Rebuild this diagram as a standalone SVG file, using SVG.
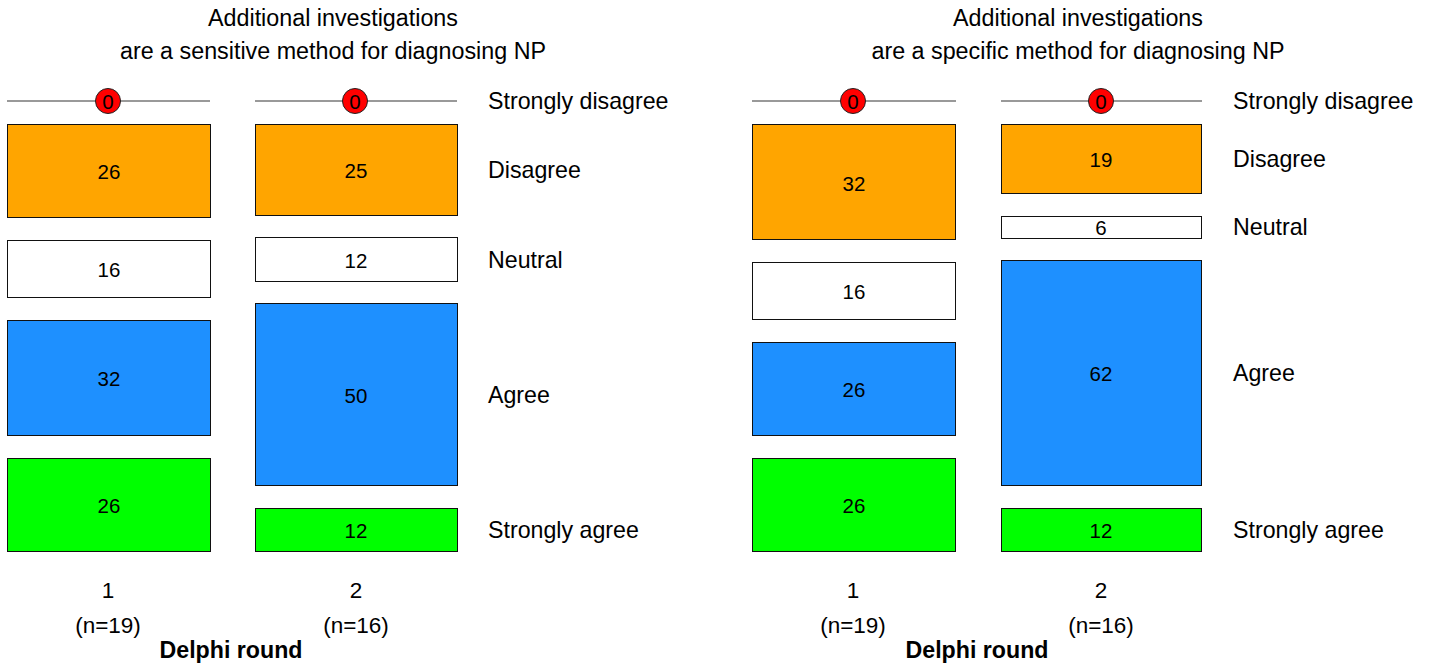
<svg xmlns="http://www.w3.org/2000/svg" width="1432" height="666" viewBox="0 0 1432 666">
<style>
text{font-family:"Liberation Sans",Arial,Helvetica,sans-serif;fill:#000}
.t{font-size:23.3px;text-anchor:middle}
.lab{font-size:23.2px}
.v{font-size:20.5px;text-anchor:middle}
.ax{font-size:22.5px;text-anchor:middle}
.b{font-size:23.2px;font-weight:bold;text-anchor:middle}
.box{stroke:#111;stroke-width:1}
.sd{fill:#FFA500}.n{fill:#FFFFFF}.a{fill:#1E90FF}.sa{fill:#00FF00}
.ln{stroke:#777;stroke-width:1.3}
.dot{fill:#FF0000;stroke:#222;stroke-width:1}
</style>
<rect width="1432" height="666" fill="#fff"/>
<g id="panel1">
<text class="t" x="333" y="26">Additional investigations</text>
<text class="t" x="333" y="59">are a sensitive method for diagnosing NP</text>
<g id="p1c1">
<line class="ln" x1="7" y1="101" x2="210" y2="101"/>
<circle class="dot" cx="108" cy="101" r="12.5"/><text class="v" x="108" y="108.5">0</text>
<rect class="box sd" x="7.5" y="124.5" width="203" height="93"/><text class="v" x="109" y="178.5">26</text>
<rect class="box n" x="7.5" y="240.5" width="203" height="57"/><text class="v" x="109" y="276.5">16</text>
<rect class="box a" x="7.5" y="320.5" width="203" height="115"/><text class="v" x="109" y="385.5">32</text>
<rect class="box sa" x="7.5" y="458.5" width="203" height="93"/><text class="v" x="109" y="512.5">26</text>
</g>
<g id="p1c2">
<line class="ln" x1="255" y1="101" x2="457" y2="101"/>
<circle class="dot" cx="355" cy="101" r="12.5"/><text class="v" x="355" y="108.5">0</text>
<rect class="box sd" x="255.5" y="124.5" width="202" height="91"/><text class="v" x="356" y="177.5">25</text>
<rect class="box n" x="255.5" y="237.5" width="202" height="44"/><text class="v" x="356" y="267.5">12</text>
<rect class="box a" x="255.5" y="303.5" width="202" height="182"/><text class="v" x="356" y="402.5">50</text>
<rect class="box sa" x="255.5" y="508.5" width="202" height="43"/><text class="v" x="356" y="537.5">12</text>
</g>
<g id="p1labels">
<text class="lab" x="488" y="109">Strongly disagree</text>
<text class="lab" x="488" y="178">Disagree</text>
<text class="lab" x="488" y="268">Neutral</text>
<text class="lab" x="488" y="403">Agree</text>
<text class="lab" x="488" y="538">Strongly agree</text>
</g>
<g id="p1axis">
<text class="ax" x="108" y="598">1</text>
<text class="ax" x="108" y="633">(n=19)</text>
<text class="ax" x="356" y="598">2</text>
<text class="ax" x="356" y="633">(n=16)</text>
<text class="b" x="231" y="658">Delphi round</text>
</g>
</g>
<g id="panel2">
<text class="t" x="1078" y="26">Additional investigations</text>
<text class="t" x="1078" y="59">are a specific method for diagnosing NP</text>
<g id="p2c1">
<line class="ln" x1="752" y1="101" x2="956" y2="101"/>
<circle class="dot" cx="853" cy="101" r="12.5"/><text class="v" x="853" y="108.5">0</text>
<rect class="box sd" x="752.5" y="124.5" width="203" height="115"/><text class="v" x="854" y="190.5">32</text>
<rect class="box n" x="752.5" y="262.5" width="203" height="57"/><text class="v" x="854" y="298.5">16</text>
<rect class="box a" x="752.5" y="342.5" width="203" height="93"/><text class="v" x="854" y="396.5">26</text>
<rect class="box sa" x="752.5" y="458.5" width="203" height="93"/><text class="v" x="854" y="512.5">26</text>
</g>
<g id="p2c2">
<line class="ln" x1="1001" y1="101" x2="1202" y2="101"/>
<circle class="dot" cx="1101" cy="101" r="12.5"/><text class="v" x="1101" y="108.5">0</text>
<rect class="box sd" x="1001.5" y="124.5" width="200" height="69"/><text class="v" x="1101" y="166.5">19</text>
<rect class="box n" x="1001.5" y="216.5" width="200" height="22"/><text class="v" x="1101" y="234.5">6</text>
<rect class="box a" x="1001.5" y="260.5" width="200" height="225"/><text class="v" x="1101" y="380.5">62</text>
<rect class="box sa" x="1001.5" y="508.5" width="200" height="43"/><text class="v" x="1101" y="537.5">12</text>
</g>
<g id="p2labels">
<text class="lab" x="1233" y="109">Strongly disagree</text>
<text class="lab" x="1233" y="167">Disagree</text>
<text class="lab" x="1233" y="235">Neutral</text>
<text class="lab" x="1233" y="381">Agree</text>
<text class="lab" x="1233" y="538">Strongly agree</text>
</g>
<g id="p2axis">
<text class="ax" x="853" y="598">1</text>
<text class="ax" x="853" y="633">(n=19)</text>
<text class="ax" x="1101" y="598">2</text>
<text class="ax" x="1101" y="633">(n=16)</text>
<text class="b" x="977" y="658">Delphi round</text>
</g>
</g>
</svg>
